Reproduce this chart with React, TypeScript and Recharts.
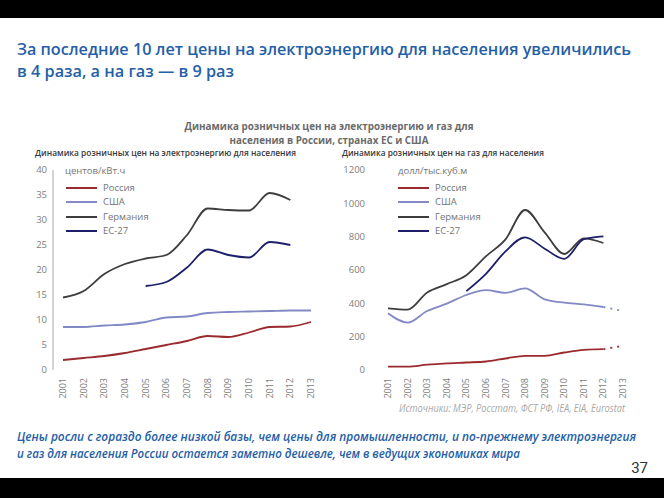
import React from 'react'
import { LineChart, Line, XAxis, YAxis, Legend } from 'recharts'

const years = [2001, 2002, 2003, 2004, 2005, 2006, 2007, 2008, 2009, 2010, 2011, 2012, 2013]
const seriesNames = ['Россия', 'США', 'Германия', 'ЕС-27']
const seriesColors = ['#9b2a2f', '#8389c4', '#3d3d3d', '#1d1f6a']

// электроэнергия, центов/кВт.ч
const elecRussia = [2.0, 2.4, 2.8, 3.4, 4.2, 5.0, 5.8, 6.8, 6.6, 7.5, 8.6, 8.7, 9.6]
const elecUsa = [8.6, 8.6, 8.9, 9.1, 9.6, 10.5, 10.7, 11.4, 11.6, 11.7, 11.8, 11.9, 11.9]
const elecGermany = [14.5, 15.8, 19.2, 21.2, 22.3, 23.0, 27.0, 32.3, 32.0, 31.9, 35.4, 34.0, null]
const elecEu = [null, null, null, null, 16.8, 17.6, 20.5, 24.1, 23.0, 22.5, 25.6, 25.0, null]
const elecTicks = [0, 5, 10, 15, 20, 25, 30, 35, 40]

// газ, долл/тыс.куб.м
const gasRussia = [20, 20, 32, 40, 45, 51, 69, 85, 85, 105, 121, 125, null]
const gasRussiaTrend = [null, null, null, null, null, null, null, null, null, null, null, 125, 145]
const gasUsa = [340, 284, 354, 398, 450, 479, 463, 490, 424, 404, 394, 378, null]
const gasUsaTrend = [null, null, null, null, null, null, null, null, null, null, null, 378, 354]
const gasGermany = [370, 362, 465, 515, 569, 682, 784, 960, 826, 696, 790, 762, null]
const gasEu = [null, null, null, null, 473, 577, 712, 796, 728, 667, 785, 802, null]
const gasTicks = [0, 200, 400, 600, 800, 1000, 1200]

const elecData = years.map((year, i) => ({
  year,
  russia: elecRussia[i],
  usa: elecUsa[i],
  germany: elecGermany[i],
  eu: elecEu[i],
}))

const gasData = years.map((year, i) => ({
  year,
  russia: gasRussia[i],
  russiaTrend: gasRussiaTrend[i],
  usa: gasUsa[i],
  usaTrend: gasUsaTrend[i],
  germany: gasGermany[i],
  eu: gasEu[i],
}))

const keys = ['russia', 'usa', 'germany', 'eu']
const labelFont = '"Open Sans", sans-serif'

const YearTick = ({ x, y, payload }: any) => (
  <text
    transform={`translate(${x + 3},${y}) rotate(-90)`}
    textAnchor="end"
    fontSize={9}
    fill="#7d7d7d"
    fontFamily={labelFont}
  >
    {payload.value}
  </text>
)

const LegendBox = ({ payload }: any) => {
  const items = (payload || [])
    .filter((p: any) => seriesNames.includes(p.value))
    .sort((a: any, b: any) => seriesNames.indexOf(a.value) - seriesNames.indexOf(b.value))
  return (
    <div style={{ fontFamily: labelFont }}>
      {items.map((p: any) => (
        <div key={p.value} style={{ display: 'flex', alignItems: 'center', height: 14.3 }}>
          <span style={{ width: 31, height: 2, background: p.color, marginRight: 6 }} />
          <span style={{ fontSize: 9.5, color: '#747474', lineHeight: '14px' }}>{p.value}</span>
        </div>
      ))}
    </div>
  )
}

function ElectricityChart() {
  return (
    <LineChart width={330} height={270} data={elecData} margin={{ top: 20, right: 9, bottom: 10, left: 0 }}>
      <XAxis
        dataKey="year"
        type="number"
        domain={[2001, 2013]}
        ticks={years}
        interval={0}
        padding={{ left: 10, right: 10 }}
        axisLine={false}
        tickLine={false}
        height={40}
        tick={<YearTick />}
      />
      <YAxis
        domain={[0, 40]}
        ticks={elecTicks}
        width={53}
        tickLine={false}
        tickMargin={0}
        axisLine={{ stroke: '#a9a9a9' }}
        tick={{ fontSize: 9.5, fill: '#7d7d7d', fontFamily: labelFont }}
      />
      <Legend
        layout="vertical"
        align="center"
        verticalAlign="middle"
        content={<LegendBox />}
        wrapperStyle={{ left: 66, top: 31, width: 120 }}
      />
      {keys.map((k, i) => (
        <Line
          key={k}
          dataKey={k}
          name={seriesNames[i]}
          type="monotone"
          stroke={seriesColors[i]}
          strokeWidth={1.8}
          dot={false}
          isAnimationActive={false}
        />
      ))}
    </LineChart>
  )
}

function GasChart() {
  return (
    <LineChart width={334} height={270} data={gasData} margin={{ top: 20, right: 41, bottom: 10, left: 0 }}>
      <XAxis
        dataKey="year"
        type="number"
        domain={[2001, 2013]}
        ticks={years}
        interval={0}
        axisLine={false}
        tickLine={false}
        height={40}
        tick={<YearTick />}
      />
      <YAxis
        domain={[0, 1200]}
        ticks={gasTicks}
        width={58}
        tickLine={false}
        tickMargin={17}
        axisLine={false}
        tick={{ fontSize: 9.5, fill: '#7d7d7d', fontFamily: labelFont }}
      />
      <Legend
        layout="vertical"
        align="center"
        verticalAlign="middle"
        content={<LegendBox />}
        wrapperStyle={{ left: 68, top: 31, width: 120 }}
      />
      {keys.map((k, i) => (
        <Line
          key={k}
          dataKey={k}
          name={seriesNames[i]}
          type="monotone"
          stroke={seriesColors[i]}
          strokeWidth={1.8}
          dot={false}
          isAnimationActive={false}
        />
      ))}
      <Line
        dataKey="usaTrend"
        name="usaTrend"
        legendType="none"
        stroke={seriesColors[1]}
        strokeWidth={1.8}
        strokeDasharray="2 5"
        dot={false}
        isAnimationActive={false}
      />
      <Line
        dataKey="russiaTrend"
        name="russiaTrend"
        legendType="none"
        stroke={seriesColors[0]}
        strokeWidth={1.8}
        strokeDasharray="2 5"
        dot={false}
        isAnimationActive={false}
      />
    </LineChart>
  )
}

export default function App() {
  const blue = '#2460a7'
  return (
    <div style={{ position: 'absolute', left: 0, top: 0, width: 664, height: 498, background: '#fff', overflow: 'hidden' }}>
      <svg width={664} height={498} style={{ position: 'absolute', left: 0, top: 0 }}>
        <rect x={0} y={0} width={664} height={18} fill="#000" />
        <rect x={0} y={478} width={664} height={20} fill="#000" />

        <g fontFamily={labelFont} fontWeight={600} fontSize={16.5} fill={blue}>
          <text x={17} y={55} textLength={614} lengthAdjust="spacingAndGlyphs">
            За последние 10 лет цены на электроэнергию для населения увеличились
          </text>
          <text x={17} y={77} textLength={217} lengthAdjust="spacingAndGlyphs">
            в 4 раза, а на газ — в 9 раз
          </text>
        </g>

        <g fontFamily={labelFont} fontWeight={700} fontSize={10.5} fill="#6b6b6b" textAnchor="middle">
          <text x={329} y={130} textLength={289} lengthAdjust="spacingAndGlyphs">
            Динамика розничных цен на электроэнергию и газ для
          </text>
          <text x={329} y={144} textLength={199} lengthAdjust="spacingAndGlyphs">
            населения в России, странах ЕС и США
          </text>
        </g>

        <g fontFamily={labelFont} fontWeight={600} fontSize={9} fill="#3a3a3a">
          <text x={35} y={155.5} textLength={261} lengthAdjust="spacingAndGlyphs">
            Динамика розничных цен на электроэнергию для населения
          </text>
          <text x={342} y={155.5} textLength={202} lengthAdjust="spacingAndGlyphs">
            Динамика розничных цен на газ для населения
          </text>
        </g>

        <g fontFamily={labelFont} fontSize={9.5} fill="#747474">
          <text x={65} y={174}>центов/кВт.ч</text>
          <text x={398} y={174}>долл/тыс.куб.м</text>
        </g>

        <text
          x={399}
          y={412}
          fontFamily={labelFont}
          fontStyle="italic"
          fontSize={10.5}
          fill="#a8a8a8"
          textLength={226}
          lengthAdjust="spacingAndGlyphs"
        >
          Источники: МЭР, Росстат, ФСТ РФ, IEA, EIA, Eurostat
        </text>

        <g fontFamily={labelFont} fontStyle="italic" fontWeight={600} fontSize={11.8} fill={blue}>
          <text x={17} y={441} textLength={619} lengthAdjust="spacingAndGlyphs">
            Цены росли с гораздо более низкой базы, чем цены для промышленности, и по-прежнему электроэнергия
          </text>
          <text x={17} y={458} textLength={503} lengthAdjust="spacingAndGlyphs">
            и газ для населения России остается заметно дешевле, чем в ведущих экономиках мира
          </text>
        </g>

        <text x={648} y={473} textAnchor="end" fontFamily="Roboto, sans-serif" fontSize={15} fill="#333">
          37
        </text>
      </svg>

      <div style={{ position: 'absolute', left: 0, top: 150 }}>
        <ElectricityChart />
      </div>
      <div style={{ position: 'absolute', left: 330, top: 150 }}>
        <GasChart />
      </div>
    </div>
  )
}
